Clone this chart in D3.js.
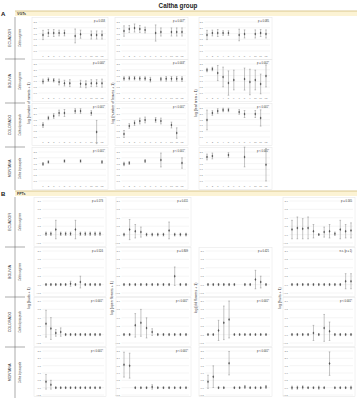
<!DOCTYPE html>
<html><head><meta charset="utf-8">
<script src="https://cdn.jsdelivr.net/npm/d3@7"></script>
<style>
html,body{margin:0;padding:0;background:#fff;}
svg{display:block;font-family:"Liberation Sans",Arial,sans-serif;}
</style>
</head><body>
<svg id="chart" width="357" height="401"></svg>
<script>
// Sampling months and site/species labels
const months = [1,2,3,4,5,6,7,8,9,10,11,12];
const countries = ["ECUADOR","BOLIVIA","COLORADO","MONTANA"];
const species = ["Caltha sagittata","Caltha sagittata","Caltha leptosepala","Caltha leptosepala"];
const vgtTitles = ["log (number of ramets + 1)","log (number of leaves + 1)","log (leaf area + 1)"];
const fptTitles = ["log (buds + 1)","log (open flowers + 1)","log (old flowers + 1)","log (fruits + 1)"];
const vgtTicks = [0,0.5,1,1.5,2,2.5];
const fptTicks = [-0.5,0,0.5,1,1.5,2];
const fptTicksTall = [-0.5,0,0.5,1,1.5,2,2.5];

// VGTs: rows = Ecuador, Bolivia, Colorado, Montana; null = not sampled
const rametsMean = [
  [1.38,1.55,1.55,1.55,1.55,null,1.30,1.45,null,1.38,1.38,1.38],
  [1.00,1.15,1.10,0.95,0.85,0.85,null,0.80,0.75,0.85,0.85,0.85],
  [1.03,1.64,1.81,2.07,2.07,null,2.24,2.24,null,2.07,0.43,null],
  [1.47,1.64,null,null,1.72,null,null,1.72,null,null,null,1.64]];
const rametsErr = [
  [0.40,0.30,0.30,0.25,0.25,null,0.60,0.35,null,0.35,0.35,0.35],
  [0.20,0.15,0.15,0.25,0.25,0.30,null,0.30,0.30,0.30,0.30,0.35],
  [0.20,0.15,0.20,0.25,0.30,null,0.20,0.20,null,0.20,1.00,null],
  [0.12,0.10,null,null,0.10,null,null,0.10,null,null,null,0.12]];
const leavesMean = [
  [1.72,1.90,1.98,1.90,1.81,null,1.55,1.64,null,1.64,1.64,1.64],
  [1.25,1.28,1.28,1.25,1.25,1.15,null,1.20,1.22,1.22,1.22,1.20],
  [0.26,0.95,1.20,1.38,1.47,null,1.47,1.38,null,1.03,0.34,null],
  [1.47,1.55,null,null,1.72,null,null,1.81,null,null,null,1.55]];
const leavesErr = [
  [0.45,0.30,0.35,0.30,0.25,null,0.70,0.35,null,0.35,0.35,0.35],
  [0.15,0.15,0.15,0.15,0.15,0.20,null,0.15,0.20,0.20,0.20,0.20],
  [0.30,0.20,0.20,0.25,0.25,null,0.20,0.25,null,0.25,0.45,null],
  [0.15,0.12,null,null,0.12,null,null,0.60,null,null,null,0.45]];
const leafAreaMean = [
  [1.38,1.55,1.55,1.55,1.55,null,1.38,1.47,null,1.47,1.55,1.47],
  [1.98,2.07,1.72,1.38,0.86,1.12,null,1.20,0.95,1.12,0.78,1.47],
  [1.47,2.07,2.24,2.33,2.33,null,2.16,1.98,null,1.98,1.64,null],
  [2.07,2.16,null,null,2.24,null,null,2.07,null,null,null,1.40]];
const leafAreaErr = [
  [0.40,0.25,0.30,0.20,0.20,null,0.50,0.35,null,0.35,0.30,0.35],
  [0.15,0.15,0.65,0.85,1.05,0.85,null,0.95,1.10,0.85,0.85,0.95],
  [0.85,0.20,0.20,0.15,0.15,null,0.20,0.30,null,0.30,0.70,null],
  [0.25,0.25,null,null,0.20,null,null,0.85,null,null,null,1.40]];

// FPTs
const budsMean = [
  [0.05,0.05,0.30,0.05,0.05,0.05,0.30,0.05,0.05,0.05,0.05,0.05],
  [0,0,0,0,0,0.05,0,0.15,0,0,0,0],
  [0.65,0.36,0.10,0.15,0,0,0,0,0,0,0,0],
  [0.40,0.20,0,0,0,0,0,0,0,0,0,0]];
const budsErr = [
  [0.10,0.10,0.55,0.10,0.10,0.10,0.55,0.10,0.10,0.10,0.10,0.10],
  [0.06,0.06,0.06,0.06,0.06,0.15,0.06,0.35,0.06,0.06,0.06,0.06],
  [0.80,0.65,0.20,0.25,0.06,0.06,0.06,0.06,0.06,0.06,0.06,0.06],
  [0.50,0.30,0.05,0.05,0.05,0.05,0.05,0.05,0.05,0.05,0.05,0.05]];
const openMean = [
  [0,0.30,0.20,0.15,0,0,0,0,0.25,0,0,0],
  [0,0,0,0,0,0,0,0,0,0.50,0,0],
  [0,0,0.55,0.70,0.40,0.15,0,0,0,0,0,0],
  [1.57,1.50,0,0,0,0.05,0,0,0,0,0,0]];
const openErr = [
  [0.08,0.60,0.40,0.30,0.08,0.08,0.08,0.08,0.50,0.08,0.08,0.08],
  [0.06,0.06,0.06,0.06,0.06,0.06,0.06,0.06,0.06,0.55,0.06,0.06],
  [0.06,0.06,0.70,0.80,0.60,0.20,0.06,0.06,0.06,0.06,0.06,0.06],
  [0.85,0.85,0.05,0.05,0.05,0.15,0.05,0.05,0.05,0.05,0.05,0.05]];
const oldMean = [
  null,
  [0,0,0,0,0,0,null,0,0,0.30,0.15,0],
  [0,0,0.25,0.70,0.90,0,0,0,0,0,0,0],
  [0.40,0.75,0,0,1.67,0,0,0.05,0,0,0,0.05]];
const oldErr = [
  null,
  [0.06,0.06,0.06,0.06,0.06,0.06,null,0.06,0.06,0.55,0.35,0.06],
  [0.05,0.05,0.60,1.00,1.10,0.05,0.05,0.05,0.05,0.05,0.05,0.05],
  [0.45,0.74,0.05,0.05,0.80,0.05,0.05,0.10,0.05,0.05,0.05,0.10]];
const fruitsMean = [
  [0.30,0.40,0.35,0.40,0.20,0,0.15,0.20,0.05,0.30,0.20,0.25],
  [0,0,0,0,0,0,0,0,0,0,0.20,0.20],
  [0,0,0,0,0.10,0,0.40,0.20,0,0,0,0],
  [0,0,0.02,0,0,0,0,1.64,0,0,0,0]];
const fruitsErr = [
  [0.55,0.65,0.60,0.65,0.40,0.05,0.30,0.40,0.10,0.55,0.40,0.45],
  [0.06,0.06,0.06,0.06,0.06,0.06,0.06,0.06,0.06,0.06,0.45,0.45],
  [0.06,0.06,0.06,0.06,0.45,0.06,0.80,0.55,0.06,0.06,0.06,0.06],
  [0.10,0.10,0.10,0.05,0.05,0.10,0.05,0.80,0.05,0.05,0.05,0.10]];

// Significance labels per row/column
const vgtP = [
  ["p = 0.058","p = 0.007*","p = 0.085"],
  ["p = 0.040*","p = 0.003*","p = 0.002*"],
  ["p < 0.001*","p < 0.001*","p < 0.001*"],
  ["p < 0.001*","p < 0.001*","p < 0.001*"]];
const fptP = [
  ["p = 0.173","p = 0.411",null,"p = 0.165"],
  ["p = 0.524","p = 0.809","p = 0.421","n.s. (p = 1)"],
  ["p < 0.001*","p < 0.001*","p < 0.001*","p < 0.001*"],
  ["p < 0.001*","p < 0.001*","p < 0.001*",null]];

const vgtMeans = [rametsMean, leavesMean, leafAreaMean];
const vgtErrs = [rametsErr, leavesErr, leafAreaErr];
const fptMeans = [budsMean, openMean, oldMean, fruitsMean];
const fptErrs = [budsErr, openErr, oldErr, fruitsErr];

const svg = d3.select("#chart");
const fmt = d3.format(".1f");

svg.append("text").attr("x", 178).attr("y", 7.5).attr("text-anchor", "middle")
  .attr("font-size", 6.3).attr("font-weight", "bold").attr("fill", "#222").text("Caltha group");

// section header band
function band(y, letter, name) {
  svg.append("rect").attr("x", 15).attr("y", y).attr("width", 342).attr("height", 5)
    .attr("fill", "#fcf3d4");
  svg.append("line").attr("x1", 15).attr("x2", 357).attr("y1", y).attr("y2", y)
    .attr("stroke", "#d8c488").attr("stroke-width", 0.9);
  svg.append("text").attr("x", 1).attr("y", y + 4.6).attr("font-size", 6)
    .attr("font-weight", "bold").attr("fill", "#111").text(letter);
  svg.append("text").attr("x", 17).attr("y", y + 3.9).attr("font-size", 3.6)
    .attr("font-weight", "bold").attr("fill", "#333").text(name);
}
band(11, "A", "VGTs");
band(191, "B", "FPTs");

// left-hand site / species table
function sideTable(tops, bottom) {
  const g = svg.append("g").attr("stroke", "#555").attr("stroke-width", 0.5);
  g.append("line").attr("x1", 15).attr("x2", 15).attr("y1", tops[0]).attr("y2", bottom);
  tops.slice(1).forEach(t => g.append("line").attr("x1", 5).attr("x2", 25).attr("y1", t).attr("y2", t));
  const edges = tops.concat([bottom]);
  countries.forEach((c, i) => {
    const cy = (edges[i] + edges[i + 1]) / 2;
    svg.append("text").attr("transform", `translate(11.2,${cy}) rotate(-90)`)
      .attr("text-anchor", "middle").attr("font-size", 3.6).attr("fill", "#333").text(c);
    svg.append("text").attr("transform", `translate(21,${cy}) rotate(-90)`)
      .attr("text-anchor", "middle").attr("font-size", 2.6).attr("font-style", "italic")
      .attr("fill", "#444").text(species[i]);
  });
}
const aRowTops = [17, 59, 103, 147];
const bRowTops = [197, 247, 297, 347];
sideTable(aRowTops, 190);
sideTable(bRowTops, 398);

// one small chart: frame, gridlines, y ticks, error bars and means
function panel(o) {
  const g = svg.append("g");
  g.append("rect").attr("x", o.frame[0]).attr("y", o.frame[1])
    .attr("width", o.frame[2] - o.frame[0]).attr("height", o.frame[3] - o.frame[1])
    .attr("fill", "none").attr("stroke", "#e4e4e4").attr("stroke-width", 0.5);
  const x = d3.scalePoint().domain(months).range(o.xRange);
  const y = d3.scaleLinear().domain(d3.extent(o.ticks)).range(o.yRange);
  g.selectAll("line.grid").data(o.ticks).join("line")
    .attr("x1", o.tickX + 1.5).attr("x2", o.frame[2] - 2)
    .attr("y1", d => y(d)).attr("y2", d => y(d))
    .attr("stroke", "#e6e6e6").attr("stroke-width", 0.4);
  g.selectAll("text.yt").data(o.ticks).join("text")
    .attr("x", o.tickX).attr("y", d => y(d) + 0.9).attr("text-anchor", "end")
    .attr("font-size", 2.5).attr("fill", "#808080").text(d => fmt(d));
  if (o.xLabelY) {
    g.selectAll("text.xt").data(months).join("text")
      .attr("x", d => x(d)).attr("y", o.xLabelY).attr("text-anchor", "middle")
      .attr("font-size", 2.5).attr("fill", "#808080").text(d => d);
  }
  const pts = months.map((m, i) => ({ m, v: o.mean[i], e: o.err[i] })).filter(d => d.v != null);
  const eb = g.append("g").attr("stroke", "#8a8a8a").attr("stroke-width", 0.5);
  pts.forEach(d => {
    const cx = x(d.m), y0 = y(d.v - d.e), y1 = y(d.v + d.e);
    eb.append("line").attr("x1", cx).attr("x2", cx).attr("y1", y0).attr("y2", y1);
    eb.append("line").attr("x1", cx - 0.8).attr("x2", cx + 0.8).attr("y1", y0).attr("y2", y0);
    eb.append("line").attr("x1", cx - 0.8).attr("x2", cx + 0.8).attr("y1", y1).attr("y2", y1);
  });
  g.selectAll("path.pt").data(pts).join("path")
    .attr("d", d3.symbol(d3.symbolDiamond, 2.6))
    .attr("transform", d => `translate(${x(d.m)},${y(d.v)})`)
    .attr("fill", "#555");
  if (o.p) {
    g.append("text").attr("x", o.frame[2] - 3).attr("y", o.frame[1] + 4.5)
      .attr("text-anchor", "end").attr("font-size", 2.6).attr("fill", "#333").text(o.p);
  }
}

// VGT grid (3 columns)
const aCols = [
  { frame: [32, 108], xRange: [43, 102], tickX: 37, titleX: 30 },
  { frame: [115, 188], xRange: [124, 182], tickX: 120, titleX: 113.5 },
  { frame: [199, 272], xRange: [207, 266], tickX: 203, titleX: 196.5 }];
aCols.forEach((c, ci) => {
  aRowTops.forEach((t, ri) => {
    panel({
      frame: [c.frame[0], t + 0.5, c.frame[1], t + 42.5],
      xRange: c.xRange, tickX: c.tickX,
      ticks: vgtTicks, yRange: [t + 34, t + 5],
      xLabelY: t + 40,
      mean: vgtMeans[ci][ri], err: vgtErrs[ci][ri], p: vgtP[ri][ci]
    });
  });
  svg.append("text").attr("transform", `translate(${c.titleX},103) rotate(-90)`)
    .attr("text-anchor", "middle").attr("font-size", 3.5).attr("fill", "#333").text(vgtTitles[ci]);
});

// FPT grid (4 columns)
const bCols = [
  { frame: [34, 106], xRange: [46, 100], tickX: 41, titleX: 30 },
  { frame: [116, 191], xRange: [124, 186], tickX: 120, titleX: 113 },
  { frame: [199, 272], xRange: [208, 266], tickX: 204, titleX: 197 },
  { frame: [283, 355], xRange: [292, 351], tickX: 288, titleX: 280.5 }];
bCols.forEach((c, ci) => {
  bRowTops.forEach((t, ri) => {
    if (!fptMeans[ci][ri]) return;
    const tall = ri === 3;
    panel({
      frame: [c.frame[0], t + 0.5, c.frame[1], t + 49.5],
      xRange: c.xRange, tickX: c.tickX,
      ticks: tall ? fptTicksTall : fptTicks,
      yRange: tall ? [t + 48, t + 4] : [t + 46, t + 4],
      xLabelY: null,
      mean: fptMeans[ci][ri], err: fptErrs[ci][ri], p: fptP[ri][ci]
    });
  });
  svg.append("text").attr("transform", `translate(${c.titleX},298) rotate(-90)`)
    .attr("text-anchor", "middle").attr("font-size", 3.5).attr("fill", "#333").text(fptTitles[ci]);
});
</script>
</body></html>
